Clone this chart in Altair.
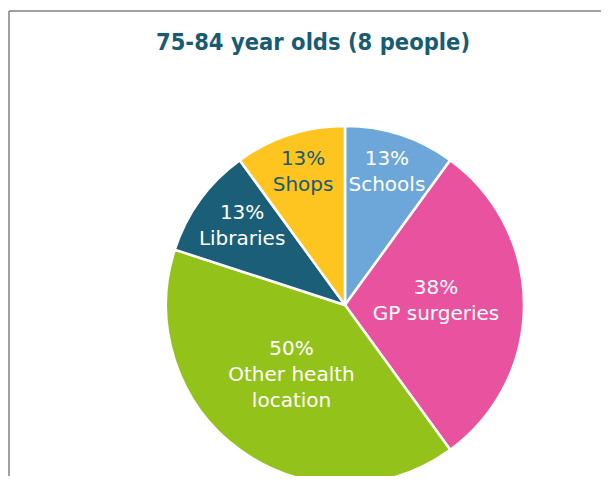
import altair as alt
import pandas as pd

# ---- data ----
title_text = "75-84 year olds (8 people)"
total_people = 8
categories = ["Schools", "GP surgeries", "Other health location", "Libraries", "Shops"]
label_lines = [["Schools"], ["GP surgeries"], ["Other health", "location"], ["Libraries"], ["Shops"]]
counts = [1, 3, 4, 1, 1]
colors = ["#6DA7DA", "#E8529E", "#93C21B", "#1B5E77", "#FEC41F"]

rows = []
for i, (cat, lines, c) in enumerate(zip(categories, label_lines, counts)):
    pct = int(c / total_people * 100 + 0.5)
    rows.append({"idx": i, "category": cat, "count": c, "text": [f"{pct}%"] + lines,
                 "nlines": 1 + len(lines)})
df = pd.DataFrame(rows)
total = sum(counts)

W, H = 593, 468
CX, CY = 337, 297
R = 179
LH = 26

theta_scale = alt.Scale(domain=[0, total], range=[0, 6.283185307179586], zero=True)

base = alt.Chart(df).transform_window(
    end="sum(count)", sort=[alt.SortField("idx", order="ascending")],
    frame=[None, 0]
).transform_calculate(
    start="datum.end - datum.count",
    mid="datum.end - datum.count / 2",
).transform_calculate(
    # small slices: labels near the rim, pulled in a bit where the slice is sideways
    lr=f"datum.count <= 1 ? 137 - 15 * pow(sin(2 * PI * datum.mid / {total}), 2) : 91",
)

arcs = base.mark_arc(outerRadius=R, stroke="white", strokeWidth=2.5).encode(
    theta=alt.Theta("start:Q", scale=theta_scale),
    theta2="end:Q",
    x=alt.value(CX),
    y=alt.value(CY),
    color=alt.Color("category:N", scale=alt.Scale(domain=categories, range=colors), legend=None),
)


def label_layer(n):
    return base.transform_filter(f"datum.nlines == {n}").mark_text(
        font="DejaVu Sans", fontSize=20, lineHeight=LH, align="center", baseline="middle",
        dy=-(n - 1) * LH / 2 - 4,
    ).encode(
        theta=alt.Theta("mid:Q", scale=theta_scale),
        x=alt.value(CX),
        y=alt.value(CY),
        radius=alt.Radius("lr:Q", scale=None),
        text="text",
        color=alt.condition(alt.datum.category == "Shops", alt.value("#1A5B74"), alt.value("white")),
    )


title = alt.Chart(pd.DataFrame({"t": [title_text]})).mark_text(
    font="DejaVu Sans Condensed", fontWeight="bold", fontSize=23.5, color="#1A5B74",
    align="center", baseline="alphabetic"
).encode(x=alt.value(305), y=alt.value(42), text="t:N")

frame_top = alt.Chart(pd.DataFrame({"a": [0]})).mark_rule(color="#808080", strokeWidth=1.5).encode(
    x=alt.value(1), x2=alt.value(W), y=alt.value(3)
)
frame_left = alt.Chart(pd.DataFrame({"a": [0]})).mark_rule(color="#808080", strokeWidth=1.5).encode(
    x=alt.value(1), y=alt.value(3), y2=alt.value(H)
)

chart = alt.layer(frame_top, frame_left, arcs, label_layer(2), label_layer(3), title).properties(
    width=W, height=H,
    autosize=alt.AutoSizeParams(type="none"),
    padding={"left": 0, "top": 0, "right": 0, "bottom": 0},
).configure_view(stroke=None)

chart.save("out.html", embed_options={"renderer": "svg", "actions": False})
